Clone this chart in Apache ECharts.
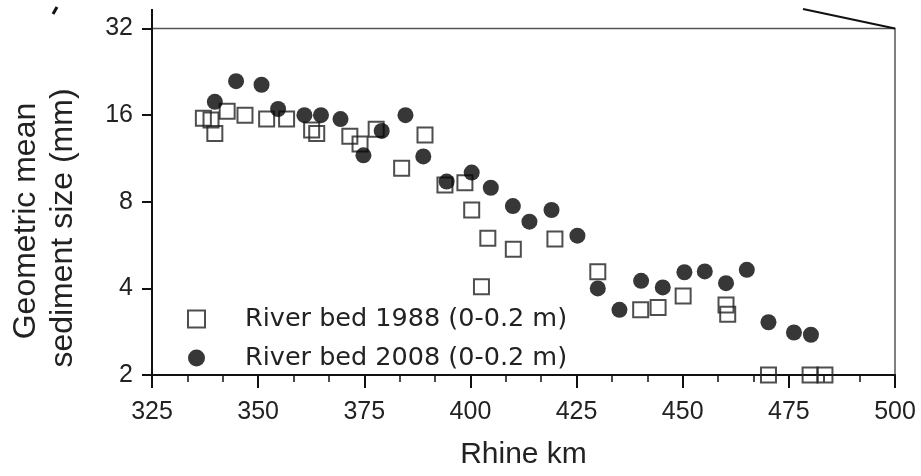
<!DOCTYPE html>
<html>
<head>
<meta charset="utf-8">
<script src="https://cdn.jsdelivr.net/npm/echarts@6/dist/echarts.min.js"></script>
<style>
html,body{margin:0;padding:0;background:#fff;}
#chart{width:921px;height:476px;}
</style>
</head>
<body>
<div id="chart"></div>
<script>
// Data
var seriesNames = ['River bed 1988 (0-0.2 m)', 'River bed 2008 (0-0.2 m)'];
var km1988 = [337.1, 338.9, 339.8, 342.7, 346.9, 352.0, 356.7, 362.6, 363.8, 371.6, 374.0, 377.8, 383.8, 389.3, 394.0, 398.7, 400.3, 402.6, 404.1, 410.1, 419.9, 430.0, 440.1, 444.2, 450.1, 460.2, 460.6, 470.2, 480.0, 483.5];
var size1988 = [15.6, 15.4, 13.8, 16.5, 16.0, 15.5, 15.5, 14.2, 13.8, 13.5, 12.7, 14.3, 10.45, 13.65, 9.15, 9.32, 7.49, 4.05, 5.97, 5.47, 5.94, 4.57, 3.37, 3.43, 3.76, 3.5, 3.25, 2.0, 2.0, 2.0];
var km2008 = [339.8, 344.8, 350.8, 354.7, 360.9, 364.8, 369.4, 374.8, 379.1, 384.7, 388.9, 394.4, 400.3, 404.8, 410.0, 413.9, 419.1, 425.2, 430.0, 435.1, 440.2, 445.3, 450.4, 455.2, 460.2, 465.1, 470.2, 476.2, 480.2];
var size2008 = [17.8, 21.0, 20.4, 16.8, 16.0, 16.0, 15.5, 11.6, 14.1, 16.0, 11.5, 9.4, 10.1, 8.95, 7.73, 6.82, 7.49, 6.1, 4.0, 3.37, 4.25, 4.03, 4.55, 4.58, 4.17, 4.64, 3.05, 2.81, 2.76];
var xTicks = {min: 325, max: 500, step: 25};
var yTicks = [2, 4, 8, 16, 32];
var yTitle = ['Geometric mean', 'sediment size (mm)'];
var xTitle = 'Rhine km';

function pairs(xs, ys) { return xs.map(function (x, i) { return [x, ys[i]]; }); }

var chart = echarts.init(document.getElementById('chart'), null, {renderer: 'canvas'});
var axisFont = '"Liberation Sans", Arial, sans-serif';
var option = {
  backgroundColor: '#ffffff',
  animation: false,
  grid: {left: 152, right: 26, top: 28.5, bottom: 101, show: true, borderColor: '#555', borderWidth: 1.5, backgroundColor: 'transparent'},
  legend: {
    orient: 'vertical', left: 187, top: 306, padding: 0, itemGap: 13,
    itemWidth: 17, itemHeight: 17,
    data: seriesNames,
    textStyle: {fontFamily: '"DejaVu Sans", sans-serif', fontSize: 25.5, color: '#222', padding: [0, 0, 0, 35]}
  },
  xAxis: {
    type: 'value', min: xTicks.min, max: xTicks.max, interval: xTicks.step,
    name: xTitle, nameLocation: 'middle', nameGap: 65,
    nameTextStyle: {fontFamily: axisFont, fontSize: 30, color: '#222'},
    axisLine: {show: true, onZero: false, lineStyle: {color: '#111', width: 2}},
    axisTick: {show: true, inside: false, length: 13, lineStyle: {color: '#111', width: 2}},
    minorTick: {show: true, splitNumber: 3, length: 7, lineStyle: {color: '#111', width: 1.5}},
    axisLabel: {fontFamily: axisFont, fontSize: 25, color: '#222', margin: 25},
    splitLine: {show: false}
  },
  yAxis: {
    type: 'log', logBase: 2, min: yTicks[0], max: yTicks[yTicks.length - 1],
    axisLine: {show: true, onZero: false, lineStyle: {color: '#111', width: 2}},
    axisTick: {show: true, inside: false, length: 10, lineStyle: {color: '#111', width: 2}},
    axisLabel: {fontFamily: axisFont, fontSize: 25, color: '#222', margin: 19},
    splitLine: {show: false}
  },
  series: [
    {
      name: seriesNames[0], type: 'scatter', symbol: 'rect', symbolSize: 15,
      itemStyle: {color: 'rgba(255,255,255,0)', borderColor: '#222', borderWidth: 2},
      data: pairs(km1988, size1988), z: 2
    },
    {
      name: seriesNames[1], type: 'scatter', symbol: 'circle', symbolSize: 16,
      itemStyle: {color: '#050505'},
      data: pairs(km2008, size2008), z: 3
    }
  ],
  graphic: [
    {type: 'text', rotation: Math.PI / 2, x: 26, y: 221,
     style: {text: yTitle[0], fontFamily: axisFont, fontSize: 32, fill: '#222', align: 'center', verticalAlign: 'middle'}},
    {type: 'text', rotation: Math.PI / 2, x: 63, y: 228,
     style: {text: yTitle[1], fontFamily: axisFont, fontSize: 32, fill: '#222', align: 'center', verticalAlign: 'middle'}},
    {type: 'line', shape: {x1: 152, y1: 9, x2: 152, y2: 29}, style: {stroke: '#111', lineWidth: 2}},
    {type: 'line', shape: {x1: 803, y1: 9, x2: 895, y2: 28.5}, style: {stroke: '#111', lineWidth: 2}},
    {type: 'line', shape: {x1: 57, y1: 7, x2: 53, y2: 14}, style: {stroke: '#111', lineWidth: 3}}
  ]
};
chart.setOption(option);
</script>
</body>
</html>
